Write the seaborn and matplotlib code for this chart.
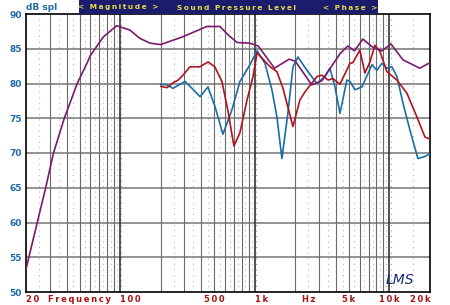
import numpy as np
import pandas as pd
import matplotlib
matplotlib.use("Agg")
import matplotlib.pyplot as plt
import matplotlib.transforms as mtransforms
from matplotlib.patches import Rectangle
import seaborn as sns

# ---------------- data ----------------
purple_f = [20, 28, 32, 38.5, 48, 57, 60, 75, 94, 118, 140, 167, 200, 290, 440, 550, 650,
            740, 920, 1060, 1400, 1800, 2000, 2650, 3150, 4300, 4900, 5500, 6350, 7400,
            8800, 10250, 12600, 16800, 20000]
purple_db = [53.3, 65, 70, 75, 80, 83, 84, 86.7, 88.3, 87.7, 86.5, 85.8, 85.6, 86.7, 88.2,
             88.2, 86.8, 85.9, 85.8, 85.4, 82.2, 83.5, 83.2, 79.8, 80.4, 84.3, 85.4, 84.7,
             86.4, 85.3, 84.7, 85.7, 83.4, 82.2, 83.0]

red_f = [200, 223, 247, 270, 293, 330, 390, 450, 505, 570, 630, 700, 775, 875, 970, 1040,
         1300, 1460, 1620, 1920, 2160, 2360, 2900, 3150, 3500, 3800, 4290, 5090, 5350, 5830,
         6030, 6570, 7160, 7800, 8500, 9570, 11360, 13480, 15980, 18340, 20000]
red_db = [79.6, 79.4, 80.1, 80.5, 81.2, 82.4, 82.4, 83.1, 82.4, 80.3, 76.2, 71.0, 72.9, 77.6,
          81.0, 84.4, 82.4, 81.7, 79.3, 73.8, 77.6, 78.8, 81.0, 81.2, 80.5, 80.7, 79.9, 82.9,
          83.0, 84.3, 84.8, 81.5, 83.1, 85.5, 84.6, 81.7, 80.5, 78.6, 75.2, 72.3, 72.0]

blue_f = [200, 223, 247, 303, 342, 392, 449, 506, 580, 676, 776, 920, 1040, 1190, 1340, 1460,
          1590, 1760, 1920, 2090, 2440, 2890, 3320, 3610, 3940, 4290, 4830, 5090, 5540, 6240,
          7410, 8070, 8790, 9570, 10430, 11360, 12590, 14190, 16260, 18340, 20000]
blue_db = [79.9, 79.8, 79.3, 80.3, 79.3, 78.1, 79.5, 76.7, 72.7, 76.2, 80.3, 82.7, 84.7, 82.9,
           79.1, 75.2, 69.2, 75.7, 82.4, 83.8, 81.9, 80.0, 81.0, 82.2, 79.5, 75.7, 80.5, 80.3,
           79.1, 79.5, 82.7, 81.9, 82.9, 82.2, 82.4, 81.0, 77.2, 73.3, 69.2, 69.5, 69.9]

y_ticks = [50, 55, 60, 65, 70, 75, 80, 85, 90]
x_label_pos = [20, 50, 100, 500, 1000, 2520, 5000, 10000, 20000]
x_label_txt = ["20", "Frequency", "100", "500", "1k", "Hz", "5k", "10k", "20k"]
x_label_ha = ["left", "center", "left", "center", "left", "center", "center", "center", "right"]
banner_txt = ["< Magnitude >", "Sound Pressure Level", "< Phase >"]

# ---------------- style ----------------
sns.set_style("white")
plt.rcParams['font.family'] = ['DejaVu Sans']

W, H = 450, 305
fig = plt.figure(figsize=(W / 100, H / 100), dpi=100)
L, R, T, B = 26, 430, 14, 292
ax = fig.add_axes([L / W, 1 - B / H, (R - L) / W, (B - T) / H])
ax.set_xscale('log')
ax.set_xlim(20, 20000)
ax.set_ylim(50, 90)

def spaced(s, sep="\u2009", gap="  "):
    return sep.join(list(s.replace(" ", gap)))

# grid: horizontal
for v in np.arange(55, 90, 5):
    ax.axhline(v, color='#8a8a8a', lw=1.3, zorder=1)
# vertical major lines
majors = [m * d for d in (10, 100, 1000) for m in range(2, 10)] + [100, 1000, 10000]
for f in majors:
    if 20 < f < 20000:
        dec = f in (100, 1000, 10000)
        ax.axvline(f, color='#333333' if dec else '#6a6a6a', lw=1.2 if dec else 0.8, zorder=1)
# dotted half lines
halves = [m * d for d in (10, 100, 1000) for m in np.arange(2.5, 10, 1.0)] + [15000]
for f in halves:
    if 20 < f < 20000:
        ax.axvline(f, color='#9a9a9a', lw=0.8, ls=(0, (0.7, 4.3)), zorder=1)
for f in (100, 1000, 10000):
    ax.axvline(f * 1.02, color='#777777', lw=0.8, ls=(0, (0.7, 4.3)), zorder=1)

# curves
df_p = pd.DataFrame({"f": purple_f, "db": purple_db})
df_r = pd.DataFrame({"f": red_f, "db": red_db})
df_b = pd.DataFrame({"f": blue_f, "db": blue_db})
sns.lineplot(data=df_b, x="f", y="db", ax=ax, color='#1a6ea6', lw=1.2, sort=False, estimator=None, zorder=3)
sns.lineplot(data=df_r, x="f", y="db", ax=ax, color='#b0141e', lw=1.2, sort=False, estimator=None, zorder=4)
sns.lineplot(data=df_p, x="f", y="db", ax=ax, color='#7a1a6c', lw=1.2, sort=False, estimator=None, zorder=5)

ax.set_xlabel("")
ax.set_ylabel("")
for s in ax.spines.values():
    s.set_color('black')
    s.set_linewidth(1.2)
    s.set_visible(True)

ax.set_yticks(y_ticks)
ax.set_yticklabels([str(v) for v in y_ticks], color='#1f6aa8', fontsize=6.5, fontweight='bold')
ax.set_yticks(np.arange(50, 91, 1), minor=True)
ax.tick_params(axis='y', which='major', length=0, pad=3)
ax.tick_params(axis='y', which='minor', direction='in', length=2.5, width=0.6, color='#666666')
ax.set_xticks([])
ax.set_xticks([], minor=True)
ax.tick_params(axis='x', which='both', length=0, labelbottom=False)

trans = mtransforms.blended_transform_factory(ax.transData, ax.transAxes)
for f, t, ha in zip(x_label_pos, x_label_txt, x_label_ha):
    ax.text(f, -7.5 / (B - T), spaced(t), transform=trans, ha=ha, va='center', color='#a81010',
            fontsize=6.0, fontweight='bold')

# dB spl
fig.text(L / W, 1 - 8 / H, "dB spl", color='#1f6aa8', fontsize=6.5, fontweight='bold',
         ha='left', va='center')

# banner
fig.patches.append(Rectangle((79 / W, 1 - 14 / H), (378 - 79) / W, 14 / H,
                             transform=fig.transFigure, facecolor='#1c1c6c', edgecolor='none',
                             zorder=10))
for cx, t in zip([118, 236, 350], banner_txt):
    fig.text(cx / W, 1 - 7.5 / H, spaced(t, gap=" "), color='#e6df4a', fontsize=5.3,
             fontweight='bold', ha='center', va='center', zorder=11)

# signature
fig.text(400 / W, 1 - 280 / H, "LMS", color='#1a2a7a', fontsize=10, style='italic',
         ha='center', va='center')

fig.savefig("out.png", dpi=100)
